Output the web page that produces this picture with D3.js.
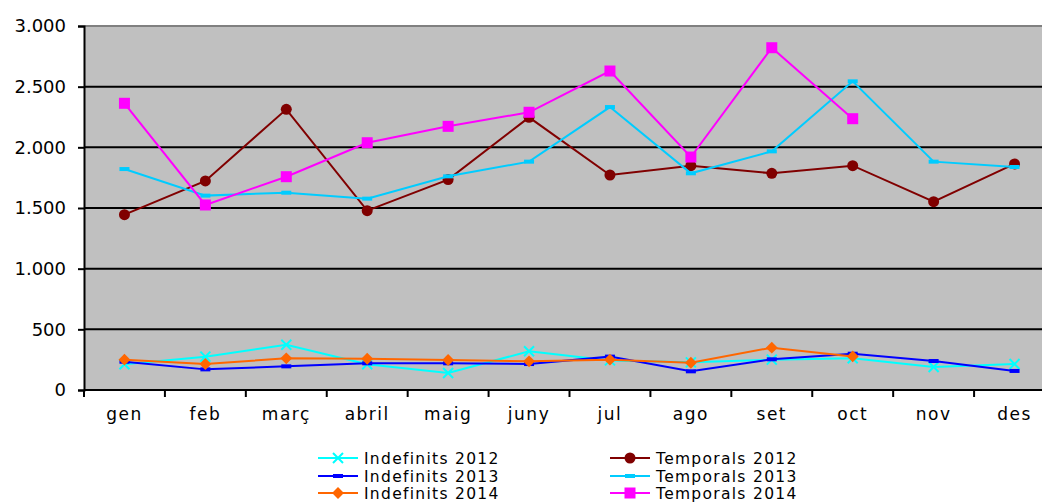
<!DOCTYPE html>
<html lang="ca">
<head>
<meta charset="UTF-8">
<title>Indefinits i temporals</title>
<script src="https://d3js.org/d3.v7.min.js"></script>
<style>
  body { margin: 0; background: #fff; overflow: hidden; }
  svg { display: block; font-family: "DejaVu Sans", Verdana, sans-serif; }
</style>
</head>
<body>
<div id="chart"></div>
<script>
var months = ['gen', 'feb', 'març', 'abril', 'maig', 'juny', 'jul', 'ago', 'set', 'oct', 'nov', 'des'];
var yTicks = [0, 500, 1000, 1500, 2000, 2500, 3000];

var indefinits2012 = [212, 275, 373, 212, 140, 319, 244, 228, 250, 261, 190, 214];
var temporals2012 = [1445, 1723, 2313, 1478, 1734, 2247, 1772, 1849, 1786, 1849, 1552, 1863];
var indefinits2013 = [233, 170, 195, 220, 220, 214, 275, 154, 253, 299, 239, 157];
var temporals2013 = [1821, 1602, 1626, 1577, 1761, 1882, 2332, 1786, 1967, 2544, 1882, 1838];
var indefinits2014 = [250, 214, 261, 258, 247, 236, 250, 225, 349, 277, null, null];
var temporals2014 = [2363, 1525, 1758, 2038, 2173, 2289, 2629, 1920, 2821, 2236, null, null];

var series = [
  { name: 'Indefinits 2012', values: indefinits2012, color: '#00ffff', marker: 'x' },
  { name: 'Temporals 2012', values: temporals2012, color: '#800000', marker: 'circle' },
  { name: 'Indefinits 2013', values: indefinits2013, color: '#0000ff', marker: 'dash' },
  { name: 'Temporals 2013', values: temporals2013, color: '#00ccff', marker: 'dash' },
  { name: 'Indefinits 2014', values: indefinits2014, color: '#ff6600', marker: 'diamond' },
  { name: 'Temporals 2014', values: temporals2014, color: '#ff00ff', marker: 'square' }
];

var w = 1042, h = 502;
var plotLeft = 84, plotRight = 1055, plotTop = 26, plotBottom = 390;

var svg = d3.select('#chart').append('svg')
  .attr('width', w)
  .attr('height', h);

var x = d3.scaleBand().domain(months).range([plotLeft, plotRight]);
var y = d3.scaleLinear().domain([0, 3000]).range([plotBottom, plotTop]);

// plot area
svg.append('rect')
  .attr('x', plotLeft).attr('y', plotTop)
  .attr('width', plotRight - plotLeft).attr('height', plotBottom - plotTop)
  .attr('fill', '#c0c0c0');

// gridlines
svg.append('g').selectAll('line')
  .data(yTicks.filter(function (d) { return d > 0 && d < 3000; }))
  .enter().append('line')
  .attr('x1', plotLeft).attr('x2', plotRight)
  .attr('y1', function (d) { return y(d); })
  .attr('y2', function (d) { return y(d); })
  .attr('stroke', '#000').attr('stroke-width', 2);

svg.append('line')
  .attr('x1', plotLeft).attr('x2', plotRight)
  .attr('y1', plotTop).attr('y2', plotTop)
  .attr('stroke', '#808080').attr('stroke-width', 2);

// y axis
var yAxis = svg.append('g')
  .attr('transform', 'translate(' + plotLeft + ',0)')
  .call(d3.axisLeft(y).tickValues(yTicks).tickSize(6).tickPadding(12)
    .tickFormat(function (d) { return d3.format(',')(d).replace(/,/g, '.'); }));
yAxis.select('.domain').attr('stroke', '#000').attr('stroke-width', 2);
yAxis.selectAll('.tick line').attr('stroke', '#000').attr('stroke-width', 2);
yAxis.selectAll('.tick text')
  .attr('font-size', 18).attr('fill', '#000')
  .attr('font-family', '"DejaVu Sans", Verdana, sans-serif');

// x axis
var xAxis = svg.append('g')
  .attr('transform', 'translate(0,' + plotBottom + ')')
  .call(d3.axisBottom(x).tickSize(0).tickPadding(18));
xAxis.select('.domain').remove();
xAxis.selectAll('.tick text')
  .attr('font-size', 17).attr('fill', '#000')
  .attr('letter-spacing', 1.5)
  .attr('font-family', '"DejaVu Sans", Verdana, sans-serif');
svg.append('line')
  .attr('x1', plotLeft).attr('x2', plotRight)
  .attr('y1', plotBottom).attr('y2', plotBottom)
  .attr('stroke', '#000').attr('stroke-width', 2);
svg.append('g').selectAll('line')
  .data(months.concat(['end']))
  .enter().append('line')
  .attr('x1', function (d, i) { return plotLeft + i * x.step(); })
  .attr('x2', function (d, i) { return plotLeft + i * x.step(); })
  .attr('y1', plotBottom).attr('y2', plotBottom + 7)
  .attr('stroke', '#000').attr('stroke-width', 2);

function cx(i) { return x(months[i]) + x.bandwidth() / 2; }

function drawMarker(g, type, color, px, py) {
  if (type === 'circle') {
    g.append('circle').attr('cx', px).attr('cy', py).attr('r', 5.5).attr('fill', color);
  } else if (type === 'square') {
    g.append('rect').attr('x', px - 5.5).attr('y', py - 5.5)
      .attr('width', 11).attr('height', 11).attr('fill', color);
  } else if (type === 'diamond') {
    g.append('path').attr('d', d3.symbol().type(d3.symbolDiamond2).size(90)())
      .attr('transform', 'translate(' + px + ',' + py + ')').attr('fill', color);
  } else if (type === 'dash') {
    g.append('rect').attr('x', px - 5).attr('y', py - 2)
      .attr('width', 10).attr('height', 4).attr('fill', color);
  } else if (type === 'x') {
    g.append('path').attr('d', 'M-5,-5L5,5M-5,5L5,-5')
      .attr('transform', 'translate(' + px + ',' + py + ')')
      .attr('stroke', color).attr('stroke-width', 2).attr('fill', 'none');
  }
}

var line = d3.line()
  .defined(function (d) { return d != null; })
  .x(function (d, i) { return cx(i); })
  .y(function (d) { return y(d); });

series.forEach(function (s) {
  var g = svg.append('g');
  g.append('path')
    .attr('d', line(s.values))
    .attr('fill', 'none')
    .attr('stroke', s.color)
    .attr('stroke-width', 2);
  s.values.forEach(function (v, i) {
    if (v != null) drawMarker(g, s.marker, s.color, cx(i), y(v));
  });
});

// legend
var legendCols = [318, 610];
var legendRows = [458, 476, 493];
var legend = svg.append('g');
series.forEach(function (s, i) {
  var lx = legendCols[i % 2], ly = legendRows[Math.floor(i / 2)];
  var g = legend.append('g');
  g.append('line')
    .attr('x1', lx).attr('x2', lx + 40)
    .attr('y1', ly).attr('y2', ly)
    .attr('stroke', s.color).attr('stroke-width', 2);
  drawMarker(g, s.marker, s.color, lx + 20, ly);
  g.append('text')
    .attr('x', lx + 46).attr('y', ly)
    .attr('dy', '0.36em')
    .attr('font-size', 15.5)
    .attr('letter-spacing', 1.3)
    .attr('fill', '#000')
    .text(s.name);
});
</script>
</body>
</html>
